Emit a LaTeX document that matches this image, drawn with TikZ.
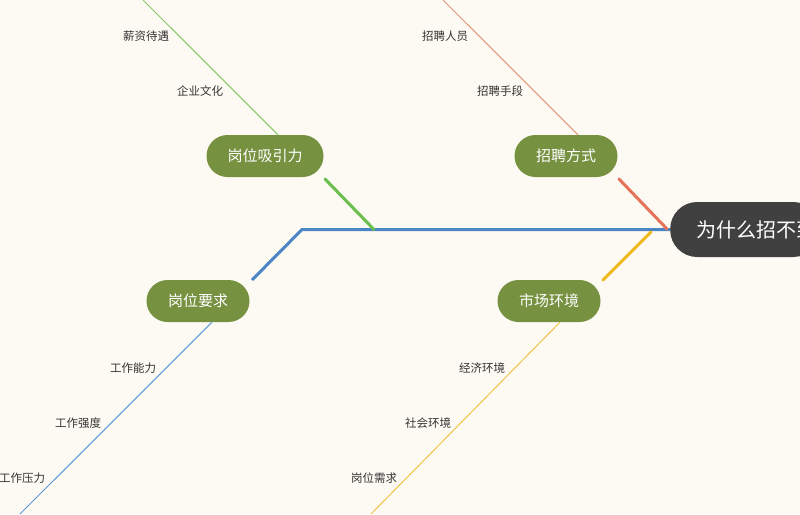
\documentclass[tikz,border=0pt]{standalone}
\usepackage{fontspec}
\setmainfont{Noto Sans CJK SC}
\usetikzlibrary{positioning}

\definecolor{paper}{RGB}{252,250,243}
\definecolor{olive}{RGB}{118,145,64}
\definecolor{rootgray}{RGB}{64,64,64}
\definecolor{spineblue}{RGB}{74,134,197}
\definecolor{leafgreen}{RGB}{106,190,76}
\definecolor{leafred}{RGB}{229,115,90}
\definecolor{leafyellow}{RGB}{240,185,30}
\definecolor{twiggreen}{RGB}{135,198,105}
\definecolor{twigred}{RGB}{226,150,118}
\definecolor{twigblue}{RGB}{95,152,212}
\definecolor{twigyellow}{RGB}{240,196,70}

\tikzset{
  cause/.style={fill=olive, text=white, rounded corners=21pt, minimum width=103pt,
    minimum height=42pt, inner sep=0pt, font=\fontsize{15}{15}\selectfont},
  topic/.style={fill=rootgray, text=white, rounded corners=27pt, minimum height=55pt,
    inner sep=0pt, text width=150pt, align=left, font=\fontsize{20}{20}\selectfont},
  leaf/.style={text=black!80, inner sep=0pt, font=\fontsize{11.5}{12}\selectfont},
  bone/.style={line width=3pt, line cap=round},
  twig/.style={line width=1pt}
}

\begin{document}
\begin{tikzpicture}[x=1pt,y=-1pt]

  % Background
  \fill[paper] (0,0) rectangle (800,514);
  \useasboundingbox (0,0) rectangle (800,514);

  % Head
  \node[topic, anchor=west] (head) at (670,229.5) {\hspace*{26pt}为什么招不到人};

  % Causes
  \node[cause, minimum width=117pt] (attract) at (265,156) {岗位吸引力};
  \node[cause] (recruit) at (566,156) {招聘方式};
  \node[cause] (require) at (198,301) {岗位要求};
  \node[cause] (market) at (549,301) {市场环境};

  % Spine
  \coordinate (bend) at (302,229.5);
  \coordinate (low) at (252,280);
  \draw[bone, spineblue, line cap=butt] (head.west) -- (bend) -- (low);

  % Bones
  \coordinate (g1) at (325,179);
  \coordinate (g2) at (374,229.5);
  \draw[bone, leafgreen] (g1) -- (g2);
  \coordinate (r1) at (619,179);
  \coordinate (r2) at (667,229);
  \draw[bone, leafred] (r1) -- (r2);
  \coordinate (y1) at (603,280);
  \coordinate (y2) at (651,232);
  \draw[bone, leafyellow] (y1) -- (y2);

  % Twigs
  \coordinate (attractEnd) at (143,0);
  \coordinate (recruitEnd) at (443,0);
  \coordinate (requireEnd) at (20,514);
  \coordinate (marketEnd) at (371,514);
  \draw[twig, twiggreen] ([xshift=13pt]attract.north) -- (attractEnd);
  \draw[twig, twigred] ([xshift=12pt]recruit.north) -- (recruitEnd);
  \draw[twig, twigblue] ([xshift=14pt]require.south) -- (requireEnd);
  \draw[twig, twigyellow] ([xshift=11pt]market.south) -- (marketEnd);

  % Leaves
  \node[leaf] (pay) at (146,36) {薪资待遇};
  \node[leaf] (culture) at (200,91) {企业文化};
  \node[leaf] (staff) at (445,36) {招聘人员};
  \node[leaf] (means) at (500,91) {招聘手段};
  \node[leaf] (ability) at (133,368) {工作能力};
  \node[leaf] (intensity) at (78,423) {工作强度};
  \node[leaf] (pressure) at (22,478) {工作压力};
  \node[leaf] (economy) at (482,368) {经济环境};
  \node[leaf] (society) at (428,423) {社会环境};
  \node[leaf] (demand) at (374,478) {岗位需求};

\end{tikzpicture}
\end{document}
